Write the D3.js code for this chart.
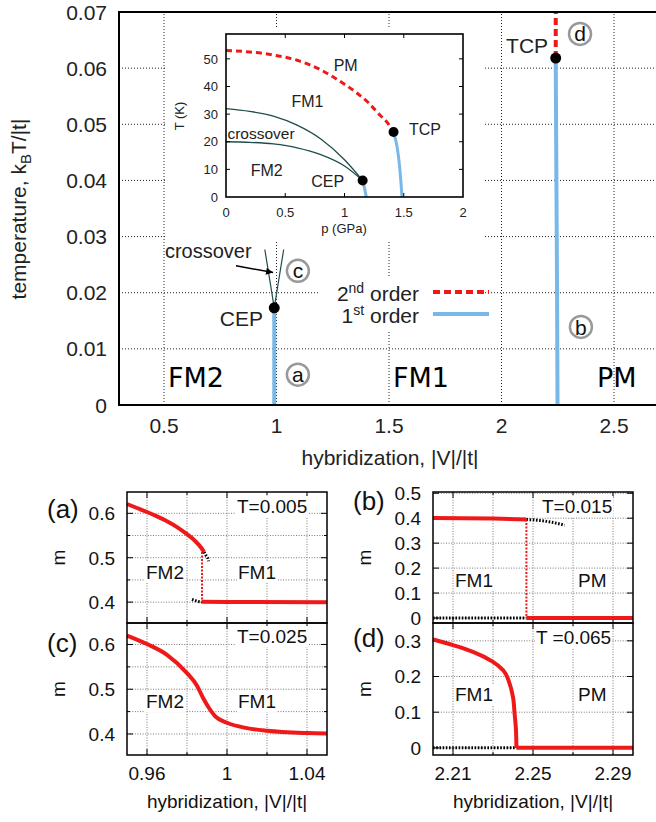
<!DOCTYPE html>
<html>
<head>
<meta charset="utf-8">
<script src="https://cdn.jsdelivr.net/npm/d3@7"></script>
<style>
  body { margin: 0; background: #fff; }
  svg { display: block; font-family: "Liberation Sans", Arial, Helvetica, sans-serif; }
</style>
</head>
<body>
<svg width="656" height="822"></svg>
<script>
// ---- main phase diagram: k_B T/|t| vs |V|/|t|
const mainXTicks = [0.5, 1, 1.5, 2, 2.5]
const mainYTicks = [0, 0.01, 0.02, 0.03, 0.04, 0.05, 0.06, 0.07]
const mainFirstOrderCEP = [[0.99, 0], [0.99, 0.0173]]
const mainFirstOrderTCP = [[2.249, 0], [2.247, 0.02], [2.244, 0.04], [2.241, 0.0618]]
const mainSecondOrder = [[2.241, 0.0618], [2.241, 0.07]]
const mainCrossoverL = [[0.99, 0.0173], [0.969, 0.0225], [0.948, 0.0277]]
const mainCrossoverR = [[0.99, 0.0173], [1.011, 0.0225], [1.032, 0.0277]]
const mainPoints = [[0.99, 0.0173], [2.241, 0.0618]]

// ---- inset: T (K) vs p (GPa)
const insetXTicks = [0, 0.5, 1, 1.5, 2]
const insetYTicks = [0, 10, 20, 30, 40, 50]
const insetSecondOrder = [[0, 53], [0.2, 52.5], [0.4, 51.4], [0.6, 49.5], [0.8, 46.0], [1.0, 40.8],
  [1.1, 37.8], [1.2, 34.2], [1.3, 29.6], [1.36, 27], [1.414, 23.5]]
const insetFirstOrderTCP = [[1.414, 23.5], [1.44, 19], [1.46, 13], [1.475, 6], [1.485, 0]]
const insetFirstOrderCEP = [[1.153, 6], [1.17, 3], [1.184, 0]]
const insetCrossUpper = [[0, 32], [0.2, 31], [0.4, 29.3], [0.6, 26], [0.8, 21], [1.0, 13.5], [1.153, 6]]
const insetCrossLower = [[0, 20], [0.2, 19.8], [0.4, 19.2], [0.6, 17.8], [0.8, 15.3], [1.0, 11.2], [1.153, 6]]
const insetPoints = [[1.153, 6], [1.414, 23.5]]

// ---- magnetization panels
const lowGridX = [0.96, 0.98, 1, 1.02, 1.04]
const lowLabelX = [0.96, 1, 1.04]
const lowGridY = [0.4, 0.45, 0.5, 0.55, 0.6]
const lowLabelY = [0.4, 0.5, 0.6]
const highGridX = [2.21, 2.23, 2.25, 2.27, 2.29]
const highLabelX = [2.21, 2.25, 2.29]
const bLabelY = [0, 0.1, 0.2, 0.3, 0.4, 0.5]
const dLabelY = [0, 0.1, 0.2, 0.3]

const aStableFM2 = [[0.95, 0.621], [0.955, 0.612], [0.96, 0.603], [0.965, 0.593], [0.97, 0.582],
  [0.975, 0.569], [0.98, 0.553], [0.984, 0.538], [0.987, 0.523], [0.9885, 0.513]]
const aStableFM1 = [[0.9875, 0.401], [1.0, 0.4005], [1.05, 0.4]]
const aMetaFM2 = [[0.9885, 0.513], [0.9895, 0.505], [0.9905, 0.498], [0.9908, 0.492]]
const aMetaFM1 = [[0.9825, 0.406], [0.985, 0.402], [0.9875, 0.4]]
const aJump = [[0.9875, 0.513], [0.9875, 0.401]]

const cCurve = [[0.95, 0.62], [0.96, 0.601], [0.97, 0.577], [0.98, 0.536], [0.985, 0.508], [0.988, 0.481],
  [0.991, 0.458], [0.994, 0.44], [1.0, 0.425], [1.01, 0.413], [1.02, 0.407], [1.04, 0.402], [1.05, 0.401]]

const bStableFM1 = [[2.2, 0.401], [2.23, 0.399], [2.2467, 0.395]]
const bStablePM = [[2.2467, 0], [2.3, 0]]
const bMetaFM1 = [[2.2467, 0.395], [2.252, 0.392], [2.258, 0.386], [2.2658, 0.372]]
const bMetaPM = [[2.2, 0], [2.2467, 0]]
const bJump = [[2.2467, 0.395], [2.2467, 0]]

const dCurve = [[2.2, 0.304], [2.21, 0.288], [2.22, 0.269], [2.23, 0.241], [2.235, 0.218], [2.2383, 0.18],
  [2.24, 0.142], [2.2408, 0.096], [2.2415, 0.049], [2.2417, 0]]
const dStablePM = [[2.2417, 0], [2.3, 0]]
const dMeta = [[2.2, 0], [2.2417, 0]]

const RED = '#ee1a1a'
const BLUE = '#78b8e8'
const GREEN = '#1f4d4d'
const svg = d3.select('svg')

function path (g, data, x, y, attrs, curve) {
  const p = g.append('path')
    .datum(data)
    .attr('fill', 'none')
    .attr('d', d3.line().x(d => x(d[0])).y(d => y(d[1])).curve(curve || d3.curveLinear))
  Object.entries(attrs).forEach(([k, v]) => p.attr(k, v))
  return p
}

function opaqueText (g, tx, ty, str, size, anchor) {
  const t = g.append('text').attr('x', tx).attr('y', ty)
    .attr('font-size', size).attr('text-anchor', anchor || 'start').text(str)
  const b = t.node().getBBox()
  g.insert('rect', () => t.node())
    .attr('x', b.x - 1).attr('y', b.y).attr('width', b.width + 2).attr('height', b.height)
    .attr('fill', '#fff')
  return t
}

// ================= main plot =================
const x = d3.scaleLinear().domain([0.3, 2.7]).range([119, 659])
const y = d3.scaleLinear().domain([0, 0.07]).range([405, 12])
const main = svg.append('g')

main.selectAll('.gx').data(mainXTicks).join('line')
  .attr('x1', d => x(d)).attr('x2', d => x(d)).attr('y1', y(0)).attr('y2', y(0.07))
  .attr('stroke', '#222').attr('stroke-width', 1).attr('stroke-dasharray', '1,2')
main.selectAll('.gy').data(mainYTicks.slice(1, -1)).join('line')
  .attr('x1', x(0.3)).attr('x2', x(2.7)).attr('y1', d => y(d)).attr('y2', d => y(d))
  .attr('stroke', '#222').attr('stroke-width', 1).attr('stroke-dasharray', '1,2')

// opaque backgrounds for inset and key
main.append('rect').attr('x', 165).attr('y', 27).attr('width', 320).attr('height', 215).attr('fill', '#fff')
main.append('rect').attr('x', 318).attr('y', 278).attr('width', 167).attr('height', 52).attr('fill', '#fff')

path(main, mainCrossoverL, x, y, { stroke: GREEN, 'stroke-width': 1.2 })
path(main, mainCrossoverR, x, y, { stroke: GREEN, 'stroke-width': 1.2 })
path(main, mainFirstOrderCEP, x, y, { stroke: BLUE, 'stroke-width': 4 })
path(main, mainFirstOrderTCP, x, y, { stroke: BLUE, 'stroke-width': 4 })
path(main, mainSecondOrder, x, y, { stroke: RED, 'stroke-width': 4, 'stroke-dasharray': '7,4' })
main.selectAll('.pt').data(mainPoints).join('circle')
  .attr('cx', d => x(d[0])).attr('cy', d => y(d[1])).attr('r', 5.5).attr('fill', '#000')

// borders
main.append('path')
  .attr('d', `M${x(2.7)},${y(0.07)}H${x(0.3)}V${y(0)}H${x(2.7)}`)
  .attr('fill', 'none').attr('stroke', '#000').attr('stroke-width', 2)

// tick labels
main.selectAll('.yl').data(mainYTicks).join('text')
  .attr('x', 107).attr('y', d => y(d)).attr('dy', '0.36em')
  .attr('text-anchor', 'end').attr('font-size', 21).attr('fill', '#222')
  .text(d => d === 0 ? '0' : d.toFixed(2))
main.selectAll('.xl').data(mainXTicks).join('text')
  .attr('x', d => x(d)).attr('y', 433)
  .attr('text-anchor', 'middle').attr('font-size', 21).attr('fill', '#222')
  .text(d => String(d))

main.append('text').attr('x', 390).attr('y', 465).attr('text-anchor', 'middle')
  .attr('font-size', 21).attr('fill', '#222').text('hybridization, |V|/|t|')
const yl = main.append('text').attr('transform', 'translate(26,209) rotate(-90)')
  .attr('text-anchor', 'middle').attr('font-size', 21).attr('fill', '#222')
yl.append('tspan').text('temperature, k')
yl.append('tspan').attr('font-size', 15).attr('dy', 5).text('B')
yl.append('tspan').attr('dy', -5).text('T/|t|')

// annotations
main.append('text').attr('x', x(0.94)).attr('y', y(0.0141)).attr('text-anchor', 'end')
  .attr('font-size', 21).attr('fill', '#222').text('CEP')
main.append('text').attr('x', x(2.207)).attr('y', y(0.0627)).attr('text-anchor', 'end')
  .attr('font-size', 21).attr('fill', '#222').text('TCP')
main.append('text').attr('x', x(0.504)).attr('y', y(0.0262))
  .attr('font-size', 20).attr('fill', '#222').text('crossover')

svg.append('defs').append('marker').attr('id', 'arr')
  .attr('viewBox', '0 0 10 10').attr('refX', 10).attr('refY', 5)
  .attr('markerWidth', 9).attr('markerHeight', 7).attr('markerUnits', 'userSpaceOnUse').attr('orient', 'auto')
  .append('path').attr('d', 'M0,0L10,5L0,10z').attr('fill', '#000')
main.append('line')
  .attr('x1', x(0.82)).attr('y1', y(0.0248)).attr('x2', x(0.985)).attr('y2', y(0.0236))
  .attr('stroke', '#000').attr('stroke-width', 1.5).attr('marker-end', 'url(#arr)')

const circled = [['a', 1.095, 0.0054], ['c', 1.095, 0.0239], ['b', 2.353, 0.0139], ['d', 2.349, 0.0661]]
const cg = main.selectAll('.cl').data(circled).join('g')
  .attr('transform', d => `translate(${x(d[1])},${y(d[2])})`)
cg.append('circle').attr('r', 11).attr('fill', '#fff').attr('stroke', '#999').attr('stroke-width', 2.5)
cg.append('text').attr('text-anchor', 'middle').attr('dy', '0.36em')
  .attr('font-size', 21).attr('fill', '#111').text(d => d[0])

const phases = [['FM2', 0.518], ['FM1', 1.518], ['PM', 2.424]]
main.selectAll('.ph').data(phases).join('text')
  .attr('x', d => x(d[1])).attr('y', y(0.0032))
  .attr('font-family', '"DejaVu Sans", sans-serif').attr('font-size', 27).attr('fill', '#000')
  .text(d => d[0])

// key
const key = main.append('g').attr('font-size', 21).attr('fill', '#222')
const k1 = key.append('text').attr('x', 419).attr('y', 301).attr('text-anchor', 'end')
k1.append('tspan').text('2')
k1.append('tspan').attr('font-size', 14).attr('dy', -8).text('nd')
k1.append('tspan').attr('dy', 8).text(' order')
const k2 = key.append('text').attr('x', 419).attr('y', 323).attr('text-anchor', 'end')
k2.append('tspan').text('1')
k2.append('tspan').attr('font-size', 14).attr('dy', -8).text('st')
k2.append('tspan').attr('dy', 8).text(' order')
key.append('line').attr('x1', 433).attr('x2', 489).attr('y1', 292).attr('y2', 292)
  .attr('stroke', RED).attr('stroke-width', 4).attr('stroke-dasharray', '7,4')
key.append('line').attr('x1', 433).attr('x2', 489).attr('y1', 314).attr('y2', 314)
  .attr('stroke', BLUE).attr('stroke-width', 4)

// ================= inset =================
const ix = d3.scaleLinear().domain([0, 2]).range([226, 463])
const iy = d3.scaleLinear().domain([0, 59]).range([197, 34])
const inset = svg.append('g')

path(inset, insetCrossUpper, ix, iy, { stroke: GREEN, 'stroke-width': 1.3 }, d3.curveMonotoneX)
path(inset, insetCrossLower, ix, iy, { stroke: GREEN, 'stroke-width': 1.3 }, d3.curveMonotoneX)
path(inset, insetSecondOrder, ix, iy, { stroke: RED, 'stroke-width': 3, 'stroke-dasharray': '6,4' }, d3.curveMonotoneX)
path(inset, insetFirstOrderTCP, ix, iy, { stroke: BLUE, 'stroke-width': 3 }, d3.curveCatmullRom)
path(inset, insetFirstOrderCEP, ix, iy, { stroke: BLUE, 'stroke-width': 3 })
inset.selectAll('.ip').data(insetPoints).join('circle')
  .attr('cx', d => ix(d[0])).attr('cy', d => iy(d[1])).attr('r', 5).attr('fill', '#000')

inset.selectAll('.itx').data(insetXTicks.slice(1, -1)).join('path')
  .attr('d', d => `M${ix(d)},${iy(0)}v-4M${ix(d)},${iy(59)}v4`).attr('stroke', '#000')
inset.selectAll('.ity').data(insetYTicks.slice(1)).join('path')
  .attr('d', d => `M${ix(0)},${iy(d)}h4M${ix(2)},${iy(d)}h-4`).attr('stroke', '#000')
inset.append('rect').attr('x', ix(0)).attr('y', iy(59)).attr('width', ix(2) - ix(0)).attr('height', iy(0) - iy(59))
  .attr('fill', 'none').attr('stroke', '#000').attr('stroke-width', 1.6)

inset.selectAll('.ixl').data(insetXTicks).join('text')
  .attr('x', d => ix(d)).attr('y', 216.5).attr('text-anchor', 'middle')
  .attr('font-size', 13).attr('fill', '#222').text(d => String(d))
inset.selectAll('.iyl').data(insetYTicks).join('text')
  .attr('x', 218).attr('y', d => iy(d)).attr('dy', '0.36em').attr('text-anchor', 'end')
  .attr('font-size', 13).attr('fill', '#222').text(d => String(d))
inset.append('text').attr('x', 344).attr('y', 233).attr('text-anchor', 'middle')
  .attr('font-size', 13).attr('fill', '#222').text('p (GPa)')
inset.append('text').attr('transform', 'translate(184,116) rotate(-90)').attr('text-anchor', 'middle')
  .attr('font-size', 13).attr('fill', '#222').text('T (K)')

const insetLabels = [['PM', 1.01, 45.6, 'middle'], ['FM1', 0.688, 32.6, 'middle'], ['crossover', 0.012, 21, 'start'],
  ['FM2', 0.343, 7.7, 'middle'], ['CEP', 0.858, 3.7, 'middle'], ['TCP', 1.544, 22.4, 'start']]
inset.selectAll('.il').data(insetLabels).join('text')
  .attr('x', d => ix(d[1])).attr('y', d => iy(d[2])).attr('text-anchor', d => d[3])
  .attr('font-size', d => d[0] === 'crossover' ? 15.5 : 16).attr('fill', '#222').text(d => d[0])

// ================= magnetization panels =================
function panel (cfg) {
  const px = d3.scaleLinear().domain(cfg.xDomain).range([cfg.left, cfg.right])
  const py = d3.scaleLinear().domain(cfg.yDomain).range([cfg.bottom, cfg.top])
  const g = svg.append('g')
  g.selectAll('.vg').data(cfg.gridX).join('line')
    .attr('x1', d => px(d)).attr('x2', d => px(d)).attr('y1', cfg.top).attr('y2', cfg.bottom)
    .attr('stroke', '#777').attr('stroke-dasharray', '1,1.6')
  g.selectAll('.hg').data(cfg.gridY).join('line')
    .attr('x1', cfg.left).attr('x2', cfg.right).attr('y1', d => py(d)).attr('y2', d => py(d))
    .attr('stroke', '#777').attr('stroke-dasharray', '1,1.6')
  g.selectAll('.tk').data(cfg.gridX).join('path')
    .attr('d', d => `M${px(d)},${cfg.bottom}v-${cfg.labelX.includes(d) ? 6 : 3}M${px(d)},${cfg.top}v${cfg.labelX.includes(d) ? 6 : 3}`)
    .attr('stroke', '#000')
  g.selectAll('.tky').data(cfg.gridY).join('path')
    .attr('d', d => `M${cfg.left},${py(d)}h${cfg.labelY.includes(d) ? 6 : 3}M${cfg.right},${py(d)}h-${cfg.labelY.includes(d) ? 6 : 3}`)
    .attr('stroke', '#000')

  const ann = g.append('g').attr('fill', '#111')
  opaqueText(ann, cfg.left + cfg.tLabel[1], cfg.top + cfg.tLabel[2], cfg.tLabel[0], 19)
  cfg.phaseLabels.forEach(l => opaqueText(ann, cfg.left + l[1], cfg.top + l[2], l[0], 19))

  g.selectAll('.yt').data(cfg.labelY).join('text')
    .attr('x', cfg.left - 12).attr('y', d => py(d)).attr('dy', '0.36em').attr('text-anchor', 'end')
    .attr('font-size', 19).attr('fill', '#111').text(d => String(d))
  if (cfg.showX) {
    g.selectAll('.xt').data(cfg.labelX).join('text')
      .attr('x', d => px(d)).attr('y', 780).attr('text-anchor', 'middle')
      .attr('font-size', 19).attr('fill', '#111').text(d => String(d))
    g.append('text').attr('x', (cfg.left + cfg.right) / 2).attr('y', 808).attr('text-anchor', 'middle')
      .attr('font-size', 19).attr('fill', '#111').text('hybridization, |V|/|t|')
  }
  g.append('text').attr('x', cfg.left - 80).attr('y', cfg.top + cfg.letterDy)
    .attr('font-size', 26).attr('fill', '#111').text(cfg.letter)
  g.append('text').attr('transform', `translate(${cfg.left - 62},${(cfg.top + cfg.bottom) / 2}) rotate(-90)`)
    .attr('text-anchor', 'middle').attr('font-size', 19).attr('fill', '#111').text('m')

  cfg.series.forEach(s => path(g, s.data, px, py, s.style, s.curve))
  g.append('rect').attr('x', cfg.left).attr('y', cfg.top)
    .attr('width', cfg.right - cfg.left).attr('height', cfg.bottom - cfg.top)
    .attr('fill', 'none').attr('stroke', '#000').attr('stroke-width', 1.5)
}

const solid = { stroke: RED, 'stroke-width': 4 }
const meta = { stroke: '#000', 'stroke-width': 3, 'stroke-dasharray': '1.6,1.6' }
const jump = { stroke: RED, 'stroke-width': 2, 'stroke-dasharray': '2,1.5' }

panel({
  letter: '(a)', letterDy: 26, left: 127, right: 327, top: 492, bottom: 623,
  xDomain: [0.95, 1.05], yDomain: [0.353, 0.648],
  gridX: lowGridX, labelX: lowLabelX, gridY: lowGridY, labelY: lowLabelY, showX: false,
  tLabel: ['T=0.005', 110, 21], phaseLabels: [['FM2', 19, 87], ['FM1', 111, 87]],
  series: [
    { data: aMetaFM2, style: meta, curve: d3.curveCatmullRom },
    { data: aMetaFM1, style: meta },
    { data: aJump, style: jump },
    { data: aStableFM2, style: solid, curve: d3.curveMonotoneX },
    { data: aStableFM1, style: solid }
  ]
})
panel({
  letter: '(c)', letterDy: 29, left: 127, right: 327, top: 623, bottom: 755,
  xDomain: [0.95, 1.05], yDomain: [0.353, 0.648],
  gridX: lowGridX, labelX: lowLabelX, gridY: lowGridY, labelY: lowLabelY, showX: true,
  tLabel: ['T=0.025', 110, 20], phaseLabels: [['FM2', 19, 85], ['FM1', 111, 85]],
  series: [{ data: cCurve, style: solid, curve: d3.curveMonotoneX }]
})
panel({
  letter: '(b)', letterDy: 18, left: 433, right: 633, top: 492, bottom: 623,
  xDomain: [2.2, 2.3], yDomain: [-0.02, 0.505],
  gridX: highGridX, labelX: highLabelX, gridY: bLabelY, labelY: bLabelY, showX: false,
  tLabel: ['T=0.015', 109, 21], phaseLabels: [['FM1', 22, 95], ['PM', 145, 95]],
  series: [
    { data: bMetaFM1, style: meta, curve: d3.curveMonotoneX },
    { data: bMetaPM, style: meta },
    { data: bJump, style: jump },
    { data: bStableFM1, style: solid },
    { data: bStablePM, style: solid }
  ]
})
panel({
  letter: '(d)', letterDy: 24, left: 433, right: 633, top: 623, bottom: 755,
  xDomain: [2.2, 2.3], yDomain: [-0.02, 0.35],
  gridX: highGridX, labelX: highLabelX, gridY: dLabelY, labelY: dLabelY, showX: true,
  tLabel: ['T =0.065', 103, 21], phaseLabels: [['FM1', 22, 78], ['PM', 145, 78]],
  series: [
    { data: dMeta, style: meta },
    { data: dCurve, style: solid, curve: d3.curveMonotoneY },
    { data: dStablePM, style: solid }
  ]
})
</script>
</body>
</html>
